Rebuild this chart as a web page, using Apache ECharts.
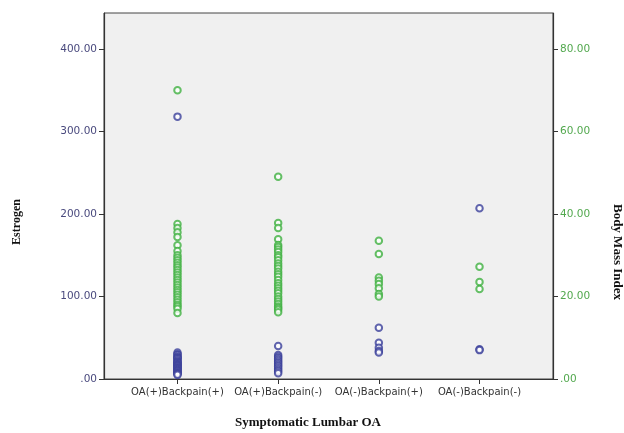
<!DOCTYPE html>
<html>
<head>
<meta charset="utf-8">
<script src="https://cdn.jsdelivr.net/npm/echarts@6/dist/echarts.min.js"></script>
<style>
  html, body { margin: 0; padding: 0; background: #fff; }
  #chart { width: 624px; height: 433px; }
</style>
</head>
<body>
<div id="chart"></div>
<script>
const categories = ['OA(+)Backpain(+)', 'OA(+)Backpain(-)', 'OA(-)Backpain(+)', 'OA(-)Backpain(-)'];

// Estrogen (left axis), one list per group
const estrogenG1 = [318, 32, 30, 29, 27, 26, 25, 24, 22, 21, 20, 19, 18, 17, 16, 15, 14, 13, 12, 11, 10, 9, 8, 7, 6, 5];
const estrogenG2 = [40, 29, 27, 25, 23, 21, 19, 17, 15, 13, 11, 9, 7];
const estrogenG3 = [62, 44, 38, 34, 32];
const estrogenG4 = [207, 36, 35];

// Body Mass Index (right axis)
const bmiG1 = [70, 37.6, 36.6, 35.6, 34.4, 32.4, 31, 30, 29.4, 28.8, 28.2, 27.6, 27, 26.4, 25.8, 25.2, 24.6, 24,
  23.4, 22.8, 22.2, 21.6, 21, 20.4, 19.8, 19.2, 18.6, 18, 17.6, 17, 16];
const bmiG2 = [49, 37.8, 36.6, 33.9, 32.5, 32, 31.4, 30.8, 30, 29.5, 28.8, 28, 27.4, 26.8, 26, 25.4, 24.8, 24,
  23.2, 22.6, 22, 21.4, 20.8, 20, 19.4, 18.8, 18.2, 17.6, 17.2, 16.8, 16.2];
const bmiG3 = [33.5, 30.3, 24.6, 23.8, 23, 22, 20.6, 20];
const bmiG4 = [27.2, 23.5, 21.8];

const leftTicks = [0, 100, 200, 300, 400];
const rightTicks = [0, 20, 40, 60, 80];

function toPoints(groups) {
  const out = [];
  groups.forEach((g, i) => g.forEach(v => out.push([i, v])));
  return out;
}

function fmt(v) {
  return v === 0 ? '.00' : v.toFixed(2);
}

const chart = echarts.init(document.getElementById('chart'));

const option = {
  animation: false,
  backgroundColor: '#ffffff',
  grid: {
    left: 104, right: 71, top: 13, bottom: 54,
    show: true, backgroundColor: '#f0f0f0', borderColor: '#444', borderWidth: 1
  },
  xAxis: {
    type: 'value',
    min: -0.73, max: 3.73,
    axisLine: { show: true, onZero: false, lineStyle: { color: '#333', width: 1.2 } },
    axisTick: { show: true, length: 5, customValues: [0, 1, 2, 3], lineStyle: { color: '#333' } },
    axisLabel: {
      customValues: [0, 1, 2, 3],
      formatter: v => categories[Math.round(v)] || '',
      color: '#333', fontSize: 10, margin: 8, fontFamily: 'DejaVu Sans'
    },
    splitLine: { show: false }
  },
  yAxis: [
    {
      type: 'value', position: 'left',
      min: 0, max: 443.6,
      axisLine: { show: true, onZero: false, lineStyle: { color: '#333', width: 1.2 } },
      axisTick: { show: true, length: 5, customValues: leftTicks, lineStyle: { color: '#333' } },
      axisLabel: { customValues: leftTicks, formatter: fmt, color: '#4a4a7e', fontSize: 10.5, margin: 7, fontFamily: 'DejaVu Sans' },
      splitLine: { show: false }
    },
    {
      type: 'value', position: 'right',
      min: 0, max: 88.72,
      axisLine: { show: true, onZero: false, lineStyle: { color: '#333', width: 1.2 } },
      axisTick: { show: true, length: 5, customValues: rightTicks, lineStyle: { color: '#333' } },
      axisLabel: { customValues: rightTicks, formatter: fmt, color: '#52a84e', fontSize: 10.5, margin: 7, fontFamily: 'DejaVu Sans' },
      splitLine: { show: false }
    }
  ],
  series: [
    {
      name: 'Estrogen', type: 'scatter', yAxisIndex: 0,
      symbol: 'emptyCircle', symbolSize: 6.5,
      itemStyle: { color: '#3a3f9a', borderColor: '#3a3f9a', borderWidth: 1.3 },
      data: toPoints([estrogenG1, estrogenG2, estrogenG3, estrogenG4])
    },
    {
      name: 'Body Mass Index', type: 'scatter', yAxisIndex: 1,
      symbol: 'emptyCircle', symbolSize: 6.5,
      itemStyle: { color: '#3fb040', borderColor: '#3fb040', borderWidth: 1.2 },
      data: toPoints([bmiG1, bmiG2, bmiG3, bmiG4])
    }
  ],
  graphic: [
    {
      type: 'text', x: 17, y: 222, rotation: Math.PI / 2,
      style: { text: 'Estrogen', font: 'bold 12px "Liberation Serif"', fill: '#111', textAlign: 'center', textVerticalAlign: 'middle' }
    },
    {
      type: 'text', x: 617, y: 252, rotation: -Math.PI / 2,
      style: { text: 'Body Mass Index', font: 'bold 13px "Liberation Serif"', fill: '#111', textAlign: 'center', textVerticalAlign: 'middle' }
    },
    {
      type: 'text', x: 308, y: 423,
      style: { text: 'Symptomatic Lumbar OA', font: 'bold 13px "Liberation Serif"', fill: '#111', textAlign: 'center', textVerticalAlign: 'middle' }
    }
  ]
};

chart.setOption(option);
</script>
</body>
</html>
